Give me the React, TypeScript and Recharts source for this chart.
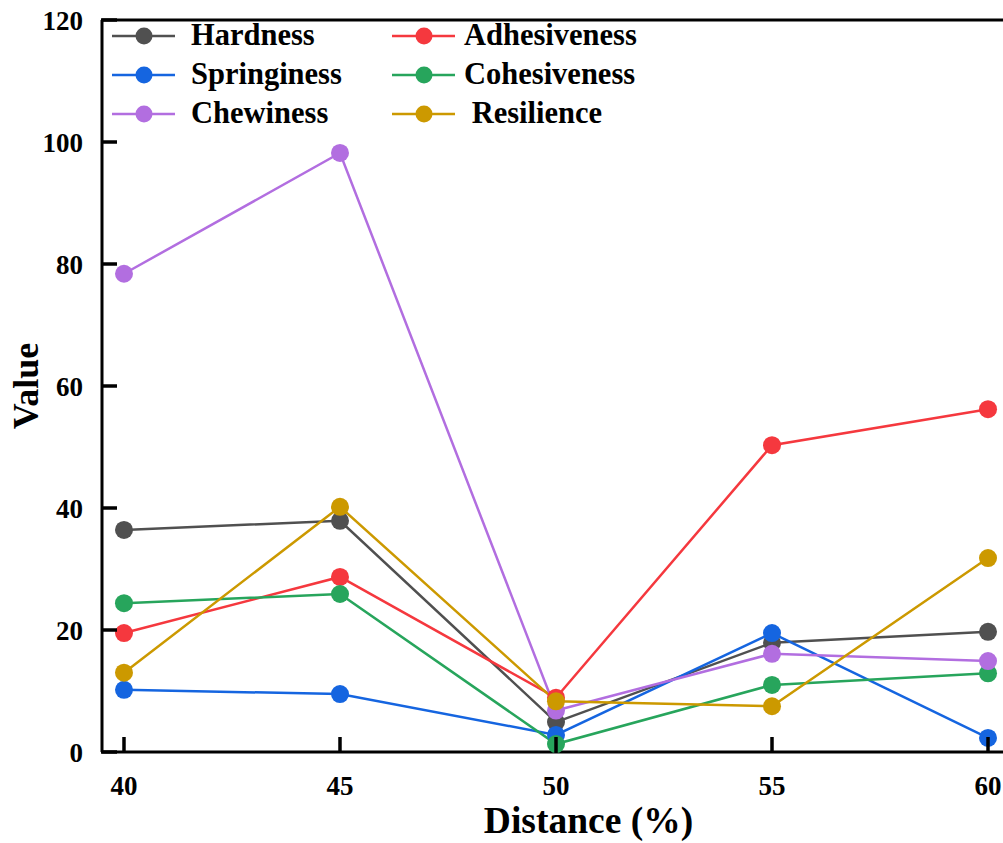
import { LineChart, Line, XAxis, YAxis, Legend, ReferenceLine, Label } from "recharts"

const distances = [40, 45, 50, 55, 60]
const hardness = [36.4, 37.9, 4.9, 17.9, 19.7]
const adhesiveness = [19.5, 28.7, 8.9, 50.3, 56.2]
const springiness = [10.2, 9.5, 2.8, 19.5, 2.3]
const cohesiveness = [24.4, 25.9, 1.3, 11.0, 12.9]
const chewiness = [78.4, 98.2, 6.8, 16.1, 14.9]
const resilience = [13.0, 40.2, 8.3, 7.5, 31.8]

const xTicks = [40, 45, 50, 55, 60]
const yTicks = [0, 20, 40, 60, 80, 100, 120]

const SERIES = [
  { key: "hardness", name: "Hardness", color: "#505050", values: hardness },
  { key: "adhesiveness", name: "Adhesiveness", color: "#f5383e", values: adhesiveness },
  { key: "springiness", name: "Springiness", color: "#1565e0", values: springiness },
  { key: "cohesiveness", name: "Cohesiveness", color: "#27a55c", values: cohesiveness },
  { key: "chewiness", name: "Chewiness", color: "#b26ee0", values: chewiness },
  { key: "resilience", name: " Resilience", color: "#cc9900", values: resilience },
]

const data = distances.map((d, i) => {
  const row: Record<string, number> = { distance: d }
  SERIES.forEach((s) => (row[s.key] = s.values[i]))
  return row
})

const FONT = "'Liberation Serif', 'Times New Roman', serif"
const TICK_LEN = 15
const Y_GAP = 19
const X_GAP = 43

// ticks point inward, so the tick line is drawn by the custom tick itself
const YTick = ({ x, y, payload }: any) => (
  <g>
    <path d={`M${x + Y_GAP - 1},${y}H${x + Y_GAP + TICK_LEN}`} stroke="#000" strokeWidth={3.5} fill="none" />
    <text x={x} y={y} dy={9.5} textAnchor="end" fontFamily={FONT} fontWeight="bold" fontSize={27} fill="#000">
      {payload.value}
    </text>
  </g>
)

const XTick = ({ x, y, payload }: any) => (
  <g>
    <path d={`M${x},${y - X_GAP + 1}V${y - X_GAP - TICK_LEN}`} stroke="#000" strokeWidth={3.5} fill="none" />
    <text x={x} y={y} textAnchor="middle" fontFamily={FONT} fontWeight="bold" fontSize={27} fill="#000">
      {payload.value}
    </text>
  </g>
)

const renderLegend = () => (
  <div style={{ display: "grid", gridTemplateColumns: "280px 280px" }}>
    {SERIES.map((s, i) => (
      <div key={s.key} style={{ display: "flex", alignItems: "center", height: 39 }}>
        <svg width={63} height={20}>
          <line x1={0} x2={63} y1={10} y2={10} stroke={s.color} strokeWidth={2.5} />
          <circle cx={32} cy={10} r={8.5} fill={s.color} />
        </svg>
        <span
          style={{
            marginLeft: i % 2 === 0 ? 16 : 9,
            fontFamily: FONT,
            fontWeight: "bold",
            fontSize: 30.5,
            color: "#000",
            whiteSpace: "pre",
            lineHeight: "39px",
          }}
        >
          {s.name}
        </span>
      </div>
    ))}
  </div>
)

export default function App() {
  return (
    <div style={{ position: "absolute", left: 0, top: 0, background: "#fff" }}>
      <LineChart width={1003} height={843} data={data} margin={{ top: 20, right: 0, bottom: 0, left: 0 }}>
        <XAxis
          dataKey="distance"
          type="number"
          domain={[39.491, 60.347]}
          allowDataOverflow
          ticks={xTicks}
          height={91}
          tickSize={0}
          tickMargin={X_GAP}
          tickLine={false}
          tick={<XTick />}
          axisLine={{ stroke: "#000", strokeWidth: 3 }}
        >
          <Label
            content={({ viewBox }: any) => (
              <text
                x={viewBox.x + viewBox.width / 2 + 36}
                y={viewBox.y + viewBox.height - 10}
                textAnchor="middle"
                fontFamily={FONT}
                fontWeight="bold"
                fontSize={37.5}
                fill="#000"
              >
                Distance (%)
              </text>
            )}
          />
        </XAxis>
        <YAxis
          type="number"
          domain={[0, 120]}
          ticks={yTicks}
          width={102}
          tickSize={0}
          tickMargin={Y_GAP}
          tickLine={false}
          tick={<YTick />}
          axisLine={{ stroke: "#000", strokeWidth: 3 }}
        >
          <Label
            content={({ viewBox }: any) => {
              const cx = viewBox.x + 38
              const cy = viewBox.y + viewBox.height / 2
              return (
                <text
                  x={cx}
                  y={cy}
                  transform={`rotate(-90, ${cx}, ${cy})`}
                  textAnchor="middle"
                  fontFamily={FONT}
                  fontWeight="bold"
                  fontSize={36}
                  fill="#000"
                >
                  Value
                </text>
              )
            }}
          />
        </YAxis>
        <ReferenceLine y={120} stroke="#000" strokeWidth={3} />
        <Legend
          layout="horizontal"
          verticalAlign="middle"
          align="center"
          content={renderLegend}
          wrapperStyle={{ position: "absolute", top: 16, left: 112, width: 600 }}
        />
        {SERIES.map((s) => (
          <Line
            key={s.key}
            type="linear"
            dataKey={s.key}
            name={s.name}
            stroke={s.color}
            strokeWidth={2.5}
            dot={{ r: 9, fill: s.color, stroke: s.color, strokeWidth: 0 }}
            activeDot={false}
            isAnimationActive={false}
          />
        ))}
      </LineChart>
    </div>
  )
}
